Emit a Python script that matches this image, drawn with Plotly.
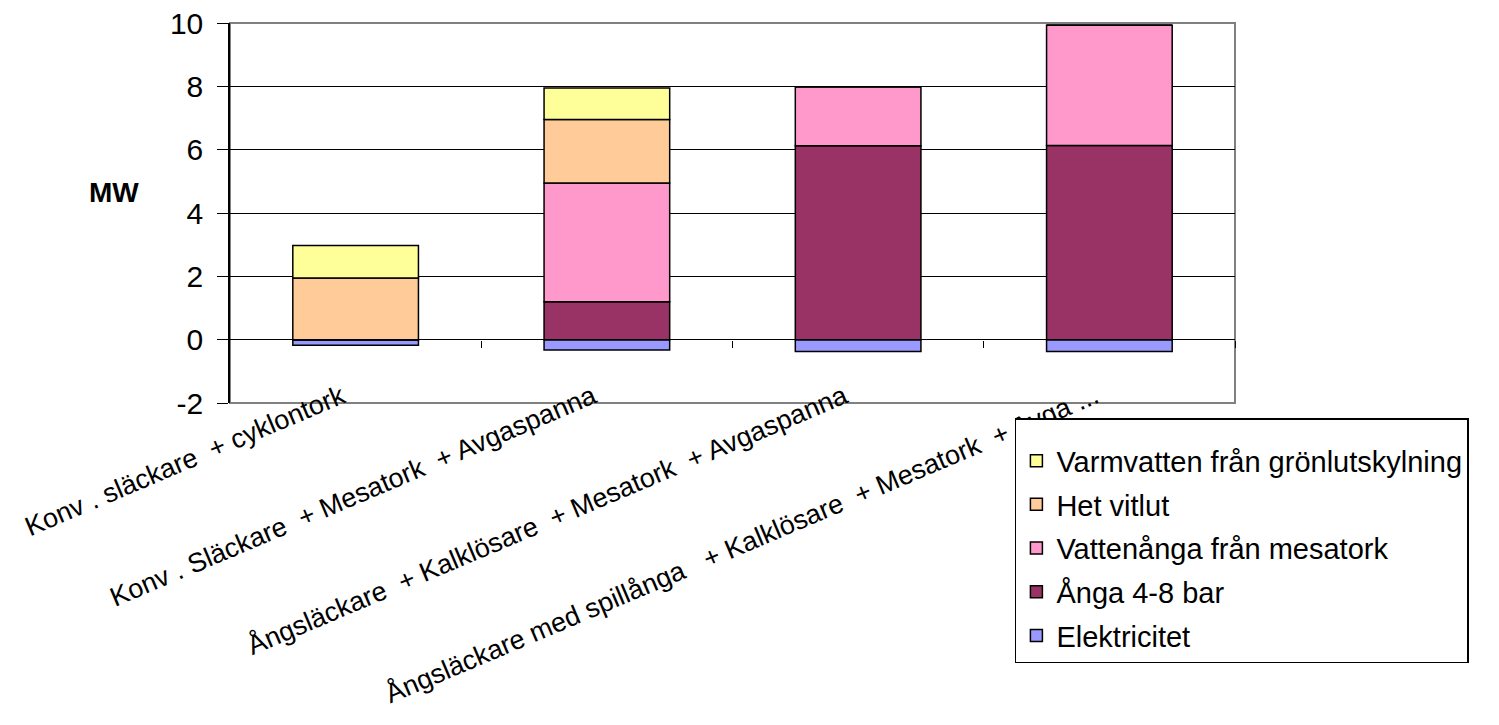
import plotly.graph_objects as go

categories = [
    "Konv . släckare  + cyklontork",
    "Konv . Släckare  + Mesatork  + Avgaspanna",
    "Ångsläckare  + Kalklösare  + Mesatork  + Avgaspanna",
    "Ångsläckare med spillånga   + Kalklösare  + Mesatork  + Avga ...",
]
elektricitet = [-0.18, -0.33, -0.37, -0.37]
anga_4_8 = [0, 1.2, 6.12, 6.13]
vattenanga = [0, 3.75, 1.87, 3.8]
het_vitlut = [1.95, 2.0, 0, 0]
varmvatten = [1.02, 1.0, 0, 0]

y_tickvals = [-2, 0, 2, 4, 6, 8, 10]
y_ticktext = ["-2", "0", "2", "4", "6", "8", "10"]

series = [
    ("Elektricitet", elektricitet, "#9999FF"),
    ("Ånga 4-8 bar", anga_4_8, "#993366"),
    ("Vattenånga från mesatork", vattenanga, "#FF99CC"),
    ("Het vitlut", het_vitlut, "#FFCC99"),
    ("Varmvatten från grönlutskylning", varmvatten, "#FFFF99"),
]

FONT = "Liberation Sans, Arial, sans-serif"

fig = go.Figure()
n = len(series)
for i, (name, vals, col) in enumerate(series):
    fig.add_trace(go.Bar(
        x=categories, y=vals, name=name, legendgroup=name,
        legendrank=n - i,
        marker=dict(color=col, line=dict(color="black", width=1.5)),
    ))

# invisible trace on overlay axis for tick marks at y=0
fig.add_trace(go.Scatter(x=[0], y=[0], xaxis="x2", mode="markers",
                         marker=dict(opacity=0), showlegend=False, hoverinfo="skip"))

fig.update_layout(
    width=1499, height=725,
    margin=dict(l=230, r=264, t=23, b=322, autoexpand=False),
    barmode="relative", bargap=0.5,
    plot_bgcolor="white", paper_bgcolor="white",
    font=dict(family=FONT, color="black"),
    xaxis=dict(
        type="category", range=[-0.5, 3.5], automargin=False,
        showgrid=False, showline=False, ticks="", zeroline=False,
        tickangle=-23, tickfont=dict(size=27, family=FONT),
        ticklabelstandoff=-28, ticklabelshift=-14,
    ),
    xaxis2=dict(
        overlaying="x", anchor="free", position=2 / 12, automargin=False,
        range=[-0.5, 3.5], tickvals=[0.5, 1.5, 2.5, 3.5],
        ticks="outside", ticklen=7, tickcolor="black", tickwidth=1,
        showticklabels=False, showgrid=False, showline=False, zeroline=False,
    ),
    yaxis=dict(
        range=[-2, 10], tickvals=y_tickvals, ticktext=y_ticktext, automargin=False,
        showgrid=True, gridcolor="black", gridwidth=1,
        zeroline=True, zerolinecolor="black", zerolinewidth=1,
        showline=True, linecolor="black", linewidth=1.5,
        ticks="outside", ticklen=11, tickcolor="black",
        tickfont=dict(size=30, family=FONT),
        ticklabelstandoff=8,
    ),
    legend=dict(
        x=0.781, y=-0.04, xanchor="left", yanchor="top",
        traceorder="grouped", tracegroupgap=3,
        bordercolor="black", borderwidth=1.5, bgcolor="white",
        font=dict(size=29, family=FONT),
        title=dict(text=" ", font=dict(size=12)),
    ),
    shapes=[dict(type="rect", xref="paper", yref="paper", x0=0, x1=1, y0=0, y1=1,
                 line=dict(color="#808080", width=2), layer="below")],
    annotations=[dict(text="<b>MW</b>", xref="paper", yref="paper",
                      x=-0.115, y=0.555, xanchor="center", yanchor="middle",
                      showarrow=False, font=dict(size=28, family=FONT))],
)

fig.write_html("out.html")
